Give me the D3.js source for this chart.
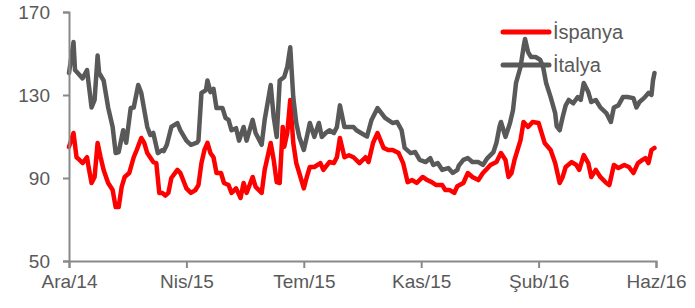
<!DOCTYPE html>
<html>
<head>
<meta charset="utf-8">
<script src="https://cdnjs.cloudflare.com/ajax/libs/d3/7.8.5/d3.min.js"></script>
<style>
	body { margin: 0; background: #fff; }
	text { font-family: "Liberation Sans", Arial, sans-serif; fill: #595959; }
</style>
</head>
<body>
<div id="chart"></div>
<script>
// tick labels (every 78 trading days)
var tickLabels = ["Ara/14", "Nis/15", "Tem/15", "Kas/15", "Şub/16", "Haz/16"];
var tickDays = [0, 78, 156, 234, 312, 390];
var yTicks = [50, 90, 130, 170];

var seriesNames = ["İspanya", "İtalya"];

// trading day index and value
var spainDays = [0, 3, 5, 7, 9, 12, 13, 15, 17, 19, 21, 23, 26, 29, 31, 33, 35, 37, 40, 43, 45, 48, 50, 52, 56, 58, 60, 62, 64, 66, 68, 72, 74, 78, 81, 84, 86, 88, 90, 92, 94, 96, 98, 101, 103, 106, 108, 111, 114, 116, 118, 122, 124, 128, 130, 134, 136, 138, 140, 142, 143, 145, 147, 149, 151, 153, 156, 158, 160, 163, 167, 169, 173, 176, 178, 180, 183, 186, 189, 193, 197, 199, 202, 205, 209, 212, 215, 219, 222, 225, 228, 231, 235, 238, 241, 244, 248, 250, 253, 256, 258, 262, 265, 268, 272, 275, 277, 280, 284, 287, 290, 292, 294, 296, 300, 302, 305, 308, 312, 314, 316, 320, 323, 326, 328, 330, 334, 337, 339, 342, 345, 347, 350, 353, 357, 359, 362, 365, 369, 372, 375, 378, 381, 383, 385, 387, 389];
var spainValues = [105, 111.7, 100, 98.7, 97.2, 100, 95.3, 87.6, 90.5, 106.9, 100, 93.9, 87.6, 84.2, 76, 76, 85.7, 90.5, 92.4, 100, 103.5, 109.3, 106.9, 102, 97.7, 97.2, 82.8, 82.8, 81.5, 82.8, 90, 93.9, 92.4, 85, 82.8, 84.2, 86.6, 97.2, 103.5, 106.9, 102, 100, 92.4, 92.4, 87.6, 86.6, 82.8, 85, 80.4, 87.6, 82.8, 90.5, 85.7, 82.8, 93.9, 106.9, 98.7, 88, 87.6, 114.6, 105, 111.7, 127.6, 106.9, 97.2, 92.4, 85, 90.5, 95.3, 95.3, 97.2, 93.9, 97.7, 97.2, 100, 109.3, 100, 101, 100, 97.2, 100, 97.7, 106.9, 111.7, 104.5, 103.5, 103.5, 102, 97.2, 88, 89, 87.6, 90.5, 89, 88, 86.6, 86.6, 84.2, 84.2, 82.8, 86, 87.6, 92.4, 90.5, 89, 92.4, 93.9, 96.3, 97.7, 102, 98.7, 90.5, 92.4, 98.7, 108.3, 117, 114.6, 117, 116.5, 111.7, 106.9, 103.5, 97.2, 87.6, 90.5, 95.3, 97.7, 96.3, 93.9, 101, 97.2, 90.5, 93.9, 90.5, 87.6, 86.6, 96.3, 94.8, 96.3, 95.3, 92.4, 97.2, 98.7, 99.6, 97.2, 103.5, 104.5];

var italyDays = [0, 3, 4, 7, 9, 12, 13, 15, 17, 19, 20, 23, 26, 29, 31, 33, 36, 38, 41, 43, 46, 48, 50, 52, 54, 56, 59, 62, 63, 65, 68, 72, 74, 78, 81, 85, 86, 88, 91, 92, 94, 96, 98, 102, 104, 106, 108, 111, 113, 116, 118, 122, 124, 128, 130, 134, 136, 138, 140, 143, 145, 147, 149, 151, 153, 156, 158, 160, 163, 166, 168, 171, 173, 176, 178, 180, 183, 186, 189, 191, 194, 198, 201, 205, 210, 215, 218, 221, 223, 227, 230, 233, 237, 240, 242, 245, 248, 252, 255, 258, 259, 262, 265, 268, 272, 275, 278, 282, 284, 286, 287, 290, 293, 295, 297, 300, 302, 303, 305, 307, 310, 313, 315, 317, 320, 323, 324, 326, 328, 330, 332, 335, 338, 340, 342, 345, 347, 350, 353, 357, 360, 362, 365, 368, 371, 375, 377, 379, 382, 385, 387, 388, 389];
var italyValues = [140.6, 155.5, 142, 139.6, 138, 142, 135.8, 124, 127.6, 149, 140.6, 137, 124, 114.6, 102, 102.5, 113, 107, 123.7, 124, 134.8, 131, 122.8, 114.6, 110.7, 111.7, 102, 103.5, 103, 106, 114.6, 116.5, 113, 108, 106, 107, 108, 131, 132.4, 137, 131.4, 133, 123.7, 123.7, 119, 118, 113, 114, 108, 114.6, 108, 118, 111.7, 106, 118, 134.8, 119.4, 109.8, 137, 138.7, 143.5, 153, 129, 116.5, 109.8, 103.5, 109.8, 116.5, 109.8, 116.5, 109.8, 112, 113, 111.7, 114.6, 125, 114.6, 114.6, 114.6, 113, 111.7, 110, 118, 123.7, 119, 116.5, 117, 113, 104.5, 102, 102.5, 98.7, 97.7, 99.6, 96.3, 97.2, 93.9, 94.8, 92.4, 93.9, 96, 98.7, 99.6, 97.7, 97.7, 96.3, 99.6, 102.5, 107, 114.6, 117, 109.8, 116.5, 122.8, 135.8, 143.5, 153, 157, 150.7, 148.3, 148.3, 147, 143.5, 135.8, 129, 121.3, 115, 113, 119.4, 125, 127.6, 126, 129, 127.6, 135.8, 131.4, 126.6, 127.6, 124, 121.3, 117, 124, 125, 129, 129, 128.5, 124, 126.6, 128.5, 131, 130, 137, 140.6];

var seriesColors = ["#ff0000", "#595959"];

var Chart = {
	svg: null,
	width: 695,
	height: 308,
	margin: { left: 69, right: 39, top: 12, bottom: 47 },

	init: function (selector) {
		var m = this.margin;
		this.svg = d3.select(selector).append("svg")
			.attr("width", this.width)
			.attr("height", this.height);

		var x = d3.scaleLinear().domain([0, 390]).range([m.left, this.width - m.right]);
		var y = d3.scaleLinear().domain([50, 170]).range([this.height - m.bottom, m.top]);

		var line = d3.line()
			.x(function (d) { return x(d[0]); })
			.y(function (d) { return y(d[1]); });

		var spain = d3.zip(spainDays, spainValues);
		var italy = d3.zip(italyDays, italyValues);

		// data lines: red first, gray on top
		[spain, italy].forEach(function (data, i) {
			Chart.svg.append("path")
				.datum(data)
				.attr("d", line)
				.attr("fill", "none")
				.attr("stroke", seriesColors[i])
				.attr("stroke-width", 4.5)
				.attr("stroke-linejoin", "round")
				.attr("stroke-linecap", "round");
		});

		// y axis
		var yAxis = this.svg.append("g")
			.attr("transform", "translate(" + m.left + ",0)")
			.call(d3.axisLeft(y).tickValues(yTicks).tickSize(6).tickPadding(13).tickFormat(d3.format("d")));

		// x axis
		var xAxis = this.svg.append("g")
			.attr("transform", "translate(0," + (this.height - m.bottom) + ")")
			.call(d3.axisBottom(x).tickValues(tickDays).tickSize(7).tickPadding(7)
				.tickFormat(function (d, i) { return tickLabels[i]; }));

		[yAxis, xAxis].forEach(function (a) {
			a.select(".domain").attr("stroke", "#898989").attr("stroke-width", 2);
			a.selectAll(".tick line").attr("stroke", "#898989").attr("stroke-width", 2);
			a.selectAll(".tick text")
				.attr("fill", "#595959")
				.style("font-size", "19px")
				.style("font-family", "'Liberation Sans', Arial, sans-serif");
		});

		// legend
		var legend = this.svg.append("g");
		seriesNames.forEach(function (name, i) {
			var ly = 32 + i * 33;
			legend.append("line")
				.attr("x1", 503).attr("x2", 549)
				.attr("y1", ly).attr("y2", ly)
				.attr("stroke", seriesColors[i])
				.attr("stroke-width", 5)
				.attr("stroke-linecap", "round");
			legend.append("text")
				.attr("x", 553)
				.attr("y", ly + 7)
				.style("font-size", "20px")
				.text(name);
		});
	}
};

Chart.init("#chart");
</script>
</body>
</html>
